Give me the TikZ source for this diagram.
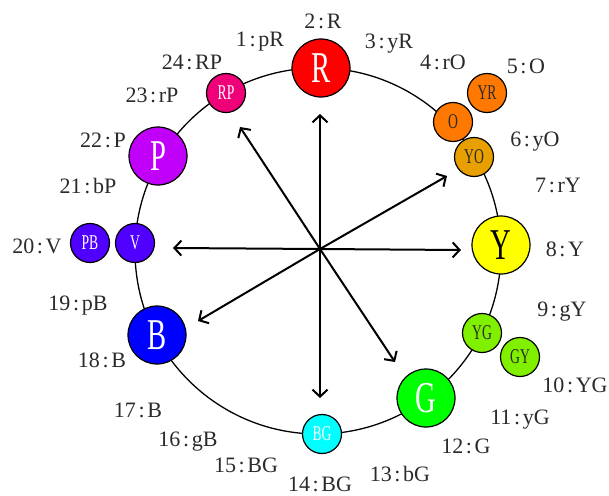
\documentclass[tikz,border=0pt]{standalone}
\usepackage{fontspec}
\setmainfont{Liberation Serif}
\newfontfamily\nodefont[FakeStretch=0.65]{Liberation Serif}
\usetikzlibrary{arrows.meta}
\definecolor{cR}{HTML}{FF0000}
\definecolor{cRP}{HTML}{F00078}
\definecolor{cP}{HTML}{C000F8}
\definecolor{cV}{HTML}{5000FF}
\definecolor{cB}{HTML}{0000FF}
\definecolor{cBG}{HTML}{00FFFF}
\definecolor{cG}{HTML}{00FF00}
\definecolor{cYG}{HTML}{80F000}
\definecolor{cY}{HTML}{FFFF00}
\definecolor{cYO}{HTML}{E8A000}
\definecolor{cO}{HTML}{FF7800}
\definecolor{lblc}{HTML}{2A2A2A}
\newcommand\cln{\hspace{0.12em}:\hspace{0.12em}}
\begin{document}
\begin{tikzpicture}[x=1pt,y=-1pt,
  big/.style={circle,draw=black,line width=1.2pt,minimum size=58pt,inner sep=0pt,
    text height=29pt,text depth=0pt,font=\nodefont\fontsize{44}{44}\selectfont},
  small/.style={circle,draw=black,line width=1.2pt,minimum size=39pt,inner sep=0pt,
    text height=13.9pt,text depth=0pt,font=\nodefont\fontsize{21}{21}\selectfont},
  lbl/.style={font=\fontsize{22}{22}\selectfont,text=lblc,inner sep=0pt,
    text height=14.6pt,text depth=0pt},
  arr/.style={line width=2pt,-{Straight Barb[length=7pt,width=15pt,line width=2pt]}}
]
\useasboundingbox (0,0) rectangle (609,495);
% ring
\coordinate (ringc) at (318,251);
\draw[line width=1.3pt] (ringc) circle[radius=183];
% arrows
\coordinate (c) at (320,249);
\coordinate (tU) at (320,114);
\coordinate (tUL) at (240,127);
\coordinate (tUR) at (447,176);
\coordinate (tR) at (461,250);
\coordinate (tL) at (173,248);
\coordinate (tLL) at (198,321);
\coordinate (tD) at (320,398);
\coordinate (tLR) at (395,362);
\foreach \t in {tU,tUL,tUR,tR,tL,tLL,tD,tLR} \draw[arr] (c) -- (\t);
% colour nodes
\node[big,fill=cR,text=white] (nR) at (321,68) {R};
\node[small,fill=cRP,text=white] (nRP) at (226,93) {RP};
\node[big,fill=cP,text=white] (nP) at (158,156) {P};
\node[small,fill=cV,text=white] (nV) at (135,243) {V};
\node[small,fill=cV,text=white] (nPB) at (90,243) {PB};
\node[big,fill=cB,text=white] (nB) at (157,335) {B};
\node[small,fill=cBG,text=white] (nBG) at (322,434) {BG};
\node[big,fill=cG,text=white] (nG) at (426,398) {G};
\node[small,fill=cYG,text=lblc] (nYG) at (482,333) {YG};
\node[small,fill=cYG,text=lblc] (nGY) at (520,357) {GY};
\node[big,fill=cY,text=black] (nY) at (501,245) {Y};
\node[small,fill=cYO,text=lblc] (nYO) at (474,157) {YO};
\node[small,fill=cO,text=lblc] (nO) at (453,122) {O};
\node[small,fill=cO,text=lblc] (nYR) at (487,93) {YR};
% labels
\node[lbl] (l1) at (260,39) {1\cln pR};
\node[lbl] (l2) at (323,21) {2\cln R};
\node[lbl] (l3) at (389,41) {3\cln yR};
\node[lbl] (l4) at (443,62) {4\cln rO};
\node[lbl] (l5) at (526,66) {5\cln O};
\node[lbl] (l6) at (535,139) {6\cln yO};
\node[lbl] (l7) at (558,185) {7\cln rY};
\node[lbl] (l8) at (565,249) {8\cln Y};
\node[lbl] (l9) at (562,309) {9\cln gY};
\node[lbl] (l10) at (575,385) {10\cln YG};
\node[lbl] (l11) at (520,417) {11\cln yG};
\node[lbl] (l12) at (466,446) {12\cln G};
\node[lbl] (l13) at (400,474) {13\cln bG};
\node[lbl] (l14) at (320,484) {14\cln BG};
\node[lbl] (l15) at (246,465) {15\cln BG};
\node[lbl] (l16) at (188,439) {16\cln gB};
\node[lbl] (l17) at (138,410) {17\cln B};
\node[lbl] (l18) at (102,360) {18\cln B};
\node[lbl] (l19) at (78,303) {19\cln pB};
\node[lbl] (l20) at (37,246) {20\cln V};
\node[lbl] (l21) at (88,186) {21\cln bP};
\node[lbl] (l22) at (103,140) {22\cln P};
\node[lbl] (l23) at (152,95) {23\cln rP};
\node[lbl] (l24) at (192,62) {24\cln RP};
\end{tikzpicture}
\end{document}
